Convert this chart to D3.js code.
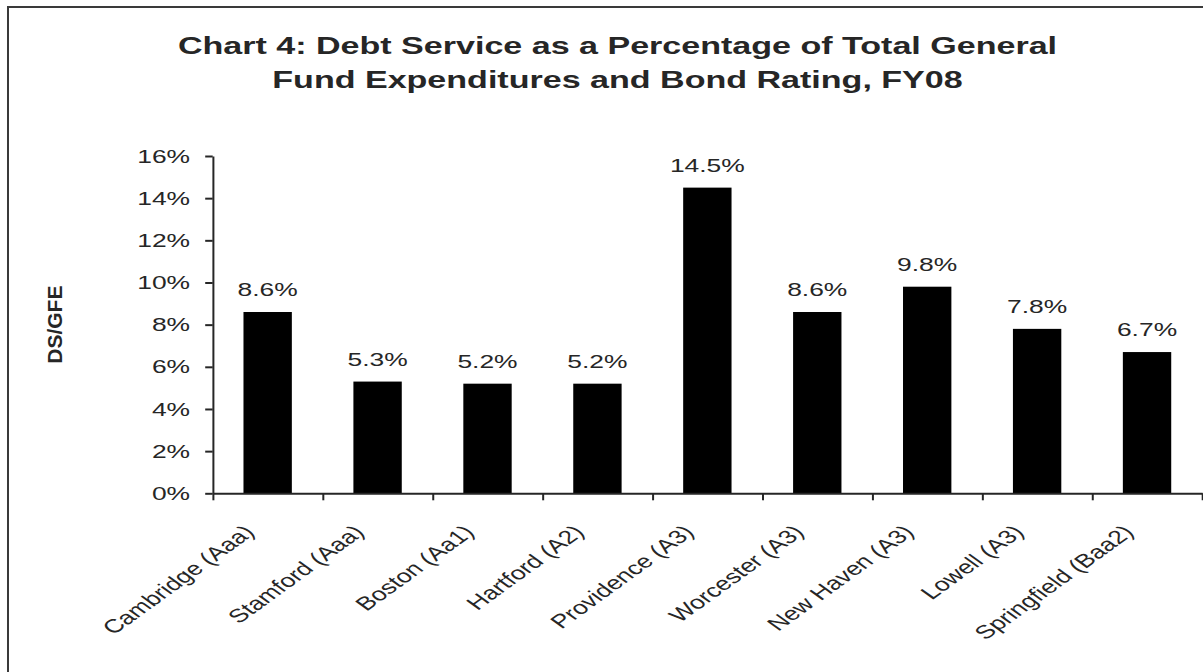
<!DOCTYPE html>
<html>
<head>
<meta charset="utf-8">
<script src="https://cdn.jsdelivr.net/npm/d3@7"></script>
<style>
  body { margin: 0; background: #fff; }
  svg line, svg path, svg rect.frame { vector-effect: non-scaling-stroke; }
</style>
</head>
<body>
<div id="chart"></div>
<script>
// chart data
var cities = ["Cambridge (Aaa)", "Stamford (Aaa)", "Boston (Aa1)", "Hartford (A2)", "Providence (A3)",
	"Worcester (A3)", "New Haven (A3)", "Lowell (A3)", "Springfield (Baa2)"];
var dsPct = [8.6, 5.3, 5.2, 5.2, 14.5, 8.6, 9.8, 7.8, 6.7];
var yTicks = [0, 2, 4, 6, 8, 10, 12, 14, 16];
var titleLines = ["Chart 4: Debt Service as a Percentage of Total General", "Fund Expenditures and Bond Rating, FY08"];
var yLabel = "DS/GFE";

var width = 1203, height = 672;
// the original picture is stretched sideways, so draw in a narrower space and let the viewBox widen it
var sx = 1.39;
var font = "'Liberation Sans', Arial, sans-serif";
var ink = "#262626";

var svg = d3.select("#chart")
	.append("svg")
	.attr("width", width)
	.attr("height", height)
	.attr("viewBox", "0 0 " + (width / sx) + " " + height)
	.attr("preserveAspectRatio", "none")

// outer frame, runs off the right and bottom edges
svg.append("rect")
	.attr("class", "frame")
	.attr("x", 8 / sx)
	.attr("y", 7)
	.attr("width", 1400 / sx)
	.attr("height", 800)
	.attr("fill", "none")
	.attr("stroke", "#3a3a3a")
	.attr("stroke-width", 2)

// title
svg.selectAll("text.title")
	.data(titleLines)
	.enter()
	.append("text")
	.attr("class", "title")
	.attr("x", 617.5 / sx)
	.attr("y", (d, i) => 54.5 + i * 34)
	.attr("text-anchor", "middle")
	.attr("font-family", font)
	.attr("font-weight", "bold")
	.attr("font-size", 24.5)
	.attr("fill", ink)
	.text(d => d)

// scales
var x = d3.scaleBand()
	.domain(cities)
	.range([212.7 / sx, 1202 / sx])
	.paddingInner(0.56)
	.paddingOuter(0.28)

var y = d3.scaleLinear()
	.domain([0, 16])
	.range([493.3, 156])

// y axis
var yAxis = svg.append("g")
	.attr("transform", "translate(" + (212.7 / sx) + ",0)")
	.call(
		d3.axisLeft(y)
			.tickValues(yTicks)
			.tickFormat(d => d + "%")
			.tickSize(7.5 / sx)
			.tickPadding(10.9)
			.tickSizeOuter(0)
	)
yAxis.selectAll("path, line").attr("stroke", ink).attr("stroke-width", 2)
yAxis.selectAll("text")
	.attr("font-family", font)
	.attr("font-size", 19)
	.attr("fill", ink)

// bars
svg.selectAll("rect.bar")
	.data(dsPct)
	.enter()
	.append("rect")
	.attr("class", "bar")
	.attr("x", (d, i) => x(cities[i]))
	.attr("width", x.bandwidth())
	.attr("y", d => y(d))
	.attr("height", d => y(0) - y(d))
	.attr("fill", "#000")

// value labels
svg.selectAll("text.value")
	.data(dsPct)
	.enter()
	.append("text")
	.attr("class", "value")
	.attr("x", (d, i) => x(cities[i]) + x.bandwidth() / 2)
	.attr("y", d => y(d) - 16)
	.attr("text-anchor", "middle")
	.attr("font-family", font)
	.attr("font-size", 19)
	.attr("fill", ink)
	.text(d => d.toFixed(1) + "%")

// x axis: ticks sit between the categories
var edgeScale = d3.scaleLinear().domain([0, cities.length]).range(x.range())
var xAxis = svg.append("g")
	.attr("transform", "translate(0," + y(0) + ")")
	.call(
		d3.axisBottom(edgeScale)
			.tickValues(d3.range(cities.length + 1))
			.tickFormat("")
			.tickSize(7)
			.tickSizeOuter(0)
	)
xAxis.selectAll("path, line").attr("stroke", ink).attr("stroke-width", 2)

// category labels, slanted
svg.selectAll("text.cat")
	.data(cities)
	.enter()
	.append("text")
	.attr("class", "cat")
	.attr("transform", d => "translate(" + (x(d) + x.bandwidth() / 2 - 12 / sx) + "," + (y(0) + 40) + ") rotate(-45)")
	.attr("text-anchor", "end")
	.attr("font-family", font)
	.attr("font-size", 19)
	.attr("fill", ink)
	.text(d => d)

// y axis title, kept unstretched
svg.append("text")
	.attr("transform", "translate(" + (62.5 / sx) + "," + ((y(0) + y(16)) / 2) + ") scale(" + (1 / sx) + ",1) rotate(-90)")
	.attr("text-anchor", "middle")
	.attr("font-family", font)
	.attr("font-weight", "bold")
	.attr("font-size", 21)
	.attr("fill", ink)
	.text(yLabel)
</script>
</body>
</html>
